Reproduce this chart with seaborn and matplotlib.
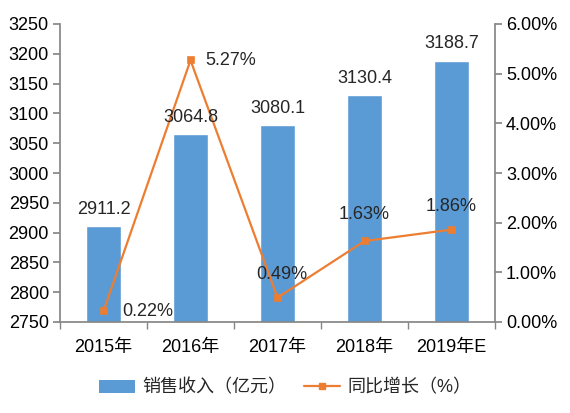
import matplotlib
matplotlib.use("Agg")
import matplotlib.pyplot as plt
import seaborn as sns
import pandas as pd
from matplotlib.patches import Patch
from matplotlib.lines import Line2D

years = ["2015年", "2016年", "2017年", "2018年", "2019年E"]
revenue = [2911.2, 3064.8, 3080.1, 3130.4, 3188.7]
growth = [0.22, 5.27, 0.49, 1.63, 1.86]
legend_labels = ["销售收入（亿元）", "同比增长（%）"]

sns.set_theme(style="white")
plt.rcParams["font.family"] = ["Liberation Sans", "Noto Sans CJK SC", "DejaVu Sans"]

BLUE = "#5B9BD5"
ORANGE = "#ED7D31"
GRAY = "#868686"
FS = 13

df = pd.DataFrame({"year": years, "revenue": revenue, "growth": growth})

fig = plt.figure(figsize=(5.7, 4.13), dpi=100)
ax = fig.add_axes([60/570, 91/413, 435/570, 298/413])
sns.barplot(data=df, x="year", y="revenue", color=BLUE, width=0.4,
            saturation=1, ax=ax, zorder=2)
ax.set_ylim(2750, 3250)
ax.set_yticks(range(2750, 3251, 50))
ax.set_xlim(-0.5, 4.5)

ax2 = ax.twinx()
sns.pointplot(data=df, x="year", y="growth", color=ORANGE, markers="s",
              markersize=5, linewidth=1.6, ax=ax2, zorder=3)
ax2.set_ylim(0, 6)
ax2.set_yticks([0, 1, 2, 3, 4, 5, 6])
ax2.set_yticklabels([f"{v:.2f}%" for v in range(7)])
ax.set_xlim(-0.5, 4.5)

for a in (ax, ax2):
    a.set_xlabel("")
    a.set_ylabel("")
    for s in a.spines.values():
        s.set_visible(False)

ax.spines["left"].set_visible(True)
ax.spines["left"].set_color(GRAY)
ax.spines["bottom"].set_visible(True)
ax.spines["bottom"].set_color(GRAY)
ax2.spines["right"].set_visible(True)
ax2.spines["right"].set_color(GRAY)

ax.tick_params(axis="y", left=True, length=5, color=GRAY, labelsize=FS, pad=3, labelcolor="black")
ax2.tick_params(axis="y", right=True, length=5, color=GRAY, labelsize=FS, pad=3, labelcolor="black")
ax.set_xticks(range(5))
ax.set_xticklabels(years)
ax.tick_params(axis="x", which="major", bottom=False, labelsize=FS, pad=6, labelcolor="black")
ax.set_xticks([-0.5, 0.5, 1.5, 2.5, 3.5, 4.5], minor=True)
ax.tick_params(axis="x", which="minor", bottom=True, length=5, color=GRAY)

# bar labels (placed on the top axes so they sit above the line)
for i, v in enumerate(revenue):
    ax2.text(i, v + 28, f"{v:.1f}", ha="center", va="center", fontsize=FS,
             transform=ax.transData, zorder=6)

# growth labels
offsets = [(0.22, 0, "left"), (0.17, 0, "left"), (0.05, 0.46, "center"),
           (0.0, 0.54, "center"), (0.0, 0.46, "center")]
for i, (g, (dx, dy, ha)) in enumerate(zip(growth, offsets)):
    ax2.text(i + dx, g + dy, f"{g:.2f}%", ha=ha, va="center", fontsize=FS, zorder=5)

handles = [Patch(facecolor=BLUE, edgecolor="none"),
           Line2D([0], [0], color=ORANGE, lw=1.6, marker="s", markersize=5)]
fig.legend(handles, legend_labels, loc="center", bbox_to_anchor=(0.5, 25/413),
           ncol=2, frameon=False, fontsize=FS, handlelength=2.0,
           handletextpad=0.4, columnspacing=1.0)

fig.savefig("out.png", dpi=100)
